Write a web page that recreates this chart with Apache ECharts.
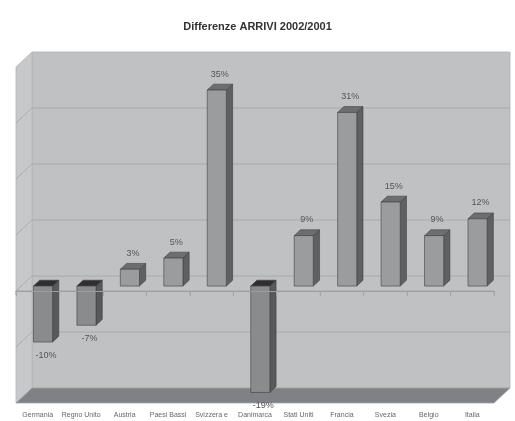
<!DOCTYPE html>
<html>
<head>
<meta charset="utf-8">
<script src="https://cdn.jsdelivr.net/npm/echarts@6/dist/echarts.min.js"></script>
<style>html,body{margin:0;padding:0;background:#fff;}#c{width:515px;height:421px;}</style>
</head>
<body>
<div id="c"></div>
<script>
const titleText = 'Differenze ARRIVI 2002/2001';
const categories = ['Germania','Regno Unito','Austria','Paesi Bassi','Svizzera e','Danimarca','Stati Uniti','Francia','Svezia','Belgio','Italia'];
const values = [-10, -7, 3, 5, 35, -19, 9, 31, 15, 9, 12];
const yTicks = [-20, -10, 0, 10, 20, 30, 40];

const yMin = -20, yMax = 40;
const DX = 16, DY = 15;
const FRONT = 0.33, BACK = 0.72;
const FONT = 'Liberation Sans, Arial, sans-serif';

function frame(api) {
  const n = categories.length;
  const bw = api.size([1, 0])[0];
  const L = api.coord([0, yMin])[0] - bw / 2;
  const R = api.coord([n - 1, yMin])[0] + bw / 2;
  return {bw, L, R};
}

function renderEnv(params, api) {
  const f = frame(api);
  const L = f.L, R = f.R;
  const yB = api.coord([0, yMin])[1];
  const yT = api.coord([0, yMax])[1];
  const children = [];
  // back wall
  children.push({type: 'polygon', shape: {points: [[L + DX, yB - DY], [L + DX, yT - DY], [R + DX, yT - DY], [R + DX, yB - DY]]},
    style: {fill: '#c0c1c3', stroke: '#aeafb1', lineWidth: 0.8}});
  // left side wall
  children.push({type: 'polygon', shape: {points: [[L, yB], [L, yT], [L + DX, yT - DY], [L + DX, yB - DY]]},
    style: {fill: '#c7c8ca', stroke: '#b4b5b7', lineWidth: 0.8}});
  // floor
  children.push({type: 'polygon', shape: {points: [[L, yB], [R, yB], [R + DX, yB - DY], [L + DX, yB - DY]]},
    style: {fill: '#808184', stroke: '#a3a4a6', lineWidth: 0.8}});
  // gridlines
  yTicks.forEach(function (t) {
    if (t === yMin || t === yMax) return;
    const y = api.coord([0, t])[1];
    children.push({type: 'polyline', shape: {points: [[L, y], [L + DX, y - DY], [R + DX, y - DY]]},
      style: {fill: null, stroke: '#a9aaac', lineWidth: 1}});
  });
  // zero line on the front plane with ticks
  const y0 = api.coord([0, 0])[1];
  children.push({type: 'line', shape: {x1: L, y1: y0, x2: R, y2: y0}, style: {stroke: '#a6a7a9', lineWidth: 1}});
  for (let i = 0; i <= categories.length; i++) {
    const x = L + i * f.bw;
    children.push({type: 'line', shape: {x1: x, y1: y0, x2: x, y2: y0 + 4}, style: {stroke: '#a6a7a9', lineWidth: 1}});
  }
  return {type: 'group', children: children};
}

function renderBar(params, api) {
  const idx = api.value(0), v = api.value(1);
  const bw = api.size([1, 0])[0];
  const barW = bw * 0.44;
  const p0 = api.coord([idx, 0]);
  const p1 = api.coord([idx, v]);
  const fx = DX * FRONT, fy = -DY * FRONT;
  const ddx = DX * (BACK - FRONT), ddy = -DY * (BACK - FRONT);
  const xl = p0[0] - barW / 2 + fx, xr = p0[0] + barW / 2 + fx;
  const yTop = Math.min(p0[1], p1[1]) + fy;
  const yBot = Math.max(p0[1], p1[1]) + fy;
  const neg = v < 0;
  const cFront = neg ? '#8a8b8d' : '#9b9c9e';
  const cSide = neg ? '#58595b' : '#5f6062';
  const cTop = neg ? '#2f2f31' : '#6d6e70';
  const st = '#3e3f41';
  const children = [
    {type: 'polygon', shape: {points: [[xr, yTop], [xr + ddx, yTop + ddy], [xr + ddx, yBot + ddy], [xr, yBot]]},
      style: {fill: cSide, stroke: st, lineWidth: 0.6}},
    {type: 'polygon', shape: {points: [[xl, yTop], [xr, yTop], [xr + ddx, yTop + ddy], [xl + ddx, yTop + ddy]]},
      style: {fill: cTop, stroke: st, lineWidth: 0.6}},
    {type: 'rect', shape: {x: xl, y: yTop, width: xr - xl, height: yBot - yTop},
      style: {fill: cFront, stroke: st, lineWidth: 0.6}}
  ];
  const lx = (xl + xr) / 2 + 3;
  const ly = neg ? (p1[1] + fy + 13) : (p1[1] + fy - 16);
  children.push({type: 'text', style: {text: v + '%', x: lx, y: ly, align: 'center', verticalAlign: 'middle',
    fill: '#555', font: '9px ' + FONT}, z2: 10});
  return {type: 'group', children: children};
}

const chart = echarts.init(document.getElementById('c'), null, {renderer: 'canvas'});
chart.setOption({
  backgroundColor: '#ffffff',
  animation: false,
  title: {text: titleText, left: 'center', top: 16,
    textStyle: {fontSize: 11, fontWeight: 'bold', color: '#333', fontFamily: FONT}},
  grid: {left: 16, right: 21, top: 67, bottom: 18, containLabel: false},
  xAxis: {type: 'category', data: categories, boundaryGap: true,
    axisLine: {show: true, lineStyle: {color: '#9d9ea0', width: 1}},
    axisTick: {show: true, alignWithLabel: false, length: 5, lineStyle: {color: '#a6a7a9'}},
    axisLabel: {interval: 0, fontSize: 7, color: '#666', margin: 9, fontFamily: FONT},
    splitLine: {show: false}, z: 5},
  yAxis: {type: 'value', min: yMin, max: yMax, interval: 10, show: false, splitLine: {show: false}},
  series: [
    {type: 'custom', z: 1, renderItem: renderEnv, data: [[0, 0]], silent: true, clip: false},
    {type: 'custom', z: 3, renderItem: renderBar, data: values.map(function (v, i) { return [i, v]; }), clip: false}
  ]
});
</script>
</body>
</html>
